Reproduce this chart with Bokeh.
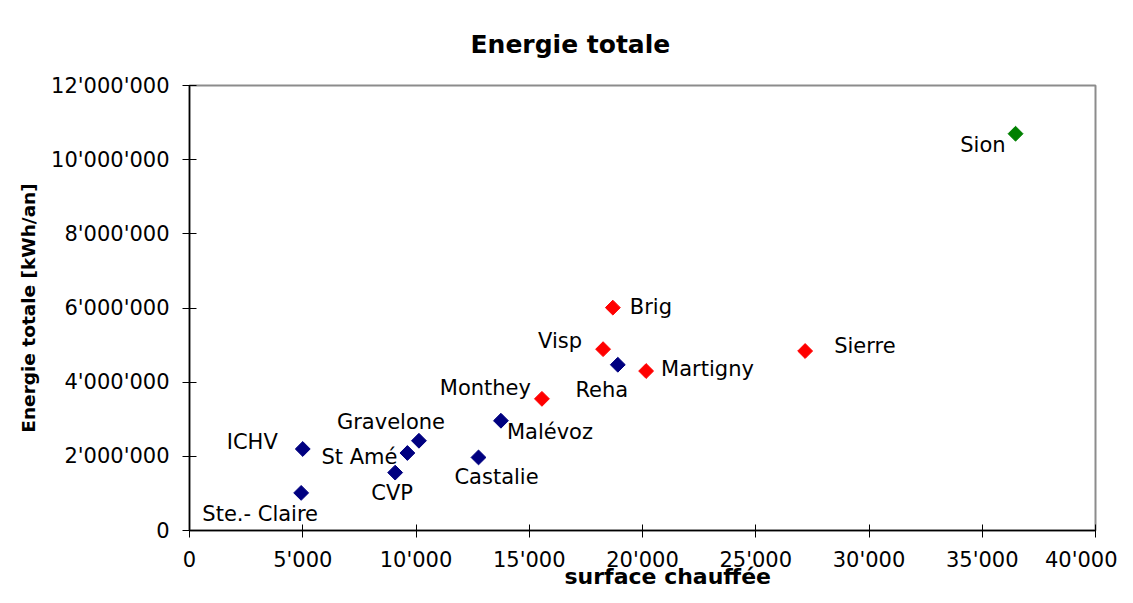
import math
from bokeh.plotting import figure
from bokeh.models import ColumnDataSource, Range1d, FixedTicker, Title
from bokeh.core.properties import value
from bokeh.embed import file_html
from bokeh.resources import INLINE

# ---- data ----
navy_names = ["Ste.- Claire", "ICHV", "CVP", "St Amé", "Gravelone", "Castalie", "Malévoz", "Reha"]
navy_surface = [4930, 5000, 9080, 9620, 10130, 12760, 13750, 18910]
navy_energie = [1014000, 2198000, 1561000, 2090000, 2420000, 1970000, 2960000, 4470000]

red_names = ["Monthey", "Visp", "Brig", "Martigny", "Sierre"]
red_surface = [15560, 18260, 18690, 20160, 27180]
red_energie = [3550000, 4890000, 6010000, 4300000, 4840000]

green_names = ["Sion"]
green_surface = [36470]
green_energie = [10700000]

x_ticks = [0, 5000, 10000, 15000, 20000, 25000, 30000, 35000, 40000]
x_tick_labels = ["0", "5'000", "10'000", "15'000", "20'000", "25'000", "30'000", "35'000", "40'000"]
y_ticks = [0, 2000000, 4000000, 6000000, 8000000, 10000000, 12000000]
y_tick_labels = ["0", "2'000'000", "4'000'000", "6'000'000", "8'000'000", "10'000'000", "12'000'000"]

title_text = "Energie totale"
x_title = "surface chauffée"
y_title = "Energie totale [kWh/an]"

# ---- label placement (screen pixels, +y down) ----
label_layout = {
    "Ste.- Claire": ("center", -41, 21),
    "ICHV": ("right", -25, -7),
    "CVP": ("center", -3, 20),
    "St Amé": ("right", -10, 4),
    "Gravelone": ("center", -28, -19),
    "Castalie": ("center", 18, 20),
    "Malévoz": ("left", 6, 11),
    "Reha": ("center", -16, 25),
    "Monthey": ("right", -11, -11),
    "Visp": ("right", -21, -8),
    "Brig": ("left", 17, -1),
    "Martigny": ("left", 15, -2),
    "Sierre": ("left", 29, -5),
    "Sion": ("right", -10, 11),
}

W, H = 1117, 587
p = figure(width=W, height=H, output_backend="svg", toolbar_location=None,
           x_range=Range1d(0, 40000), y_range=Range1d(0, 12000000),
           min_border_left=189, min_border_right=22, min_border_top=84, min_border_bottom=57)
p.background_fill_color = "white"
p.border_fill_color = "white"
p.outline_line_color = "#8c8c8c"
p.outline_line_width = 2
p.xgrid.visible = False
p.ygrid.visible = False

p.title = Title(text=title_text, align="left", offset=281, standoff=54,
                text_font="DejaVu Sans", text_font_style="bold", text_font_size="25px",
                text_color="black")
p.add_layout(Title(text=x_title, align="left", offset=375, standoff=-22, vertical_align="top",
                   text_font="DejaVu Sans", text_font_style="bold", text_font_size="22px",
                   text_color="black"), "below")

for ax in (p.xaxis[0], p.yaxis[0]):
    ax.axis_line_color = "black"
    ax.axis_line_width = 1.5
    ax.major_tick_line_color = "black"
    ax.major_tick_line_width = 1
    ax.minor_tick_line_color = None
    ax.major_label_text_font = "DejaVu Sans"
    ax.major_label_text_font_size = "21px"
    ax.major_label_text_color = "black"

p.xaxis.ticker = FixedTicker(ticks=x_ticks)
p.xaxis.major_label_overrides = dict(zip(x_ticks, x_tick_labels))
p.xaxis.major_tick_in = 6
p.xaxis.major_tick_out = 7
p.xaxis.major_label_standoff = 10

p.yaxis.ticker = FixedTicker(ticks=y_ticks)
p.yaxis.major_label_overrides = dict(zip(y_ticks, y_tick_labels))
p.yaxis.major_tick_in = 7
p.yaxis.major_tick_out = 7
p.yaxis.major_label_standoff = 13
p.yaxis.axis_label = y_title
p.yaxis.axis_label_text_font = "DejaVu Sans"
p.yaxis.axis_label_text_font_style = "bold"
p.yaxis.axis_label_text_font_size = "18.5px"
p.yaxis.axis_label_text_color = "black"
p.yaxis.axis_label_standoff = 9


def add_series(names, xs, ys, color):
    aligns = [label_layout[n][0] for n in names]
    dxs = [label_layout[n][1] for n in names]
    dys = [label_layout[n][2] for n in names]
    src = ColumnDataSource(dict(x=xs, y=ys, name=names, align=aligns, dx=dxs, dy=dys))
    p.scatter("x", "y", source=src, marker="square", size=10.5, angle=math.pi / 4,
              fill_color=color, line_color=color, line_width=1)
    p.text("x", "y", text="name", source=src, text_align="align", x_offset="dx", y_offset="dy",
           text_baseline="middle", text_font=value("DejaVu Sans"), text_font_size="21px",
           text_color="black")


add_series(navy_names, navy_surface, navy_energie, "#000080")
add_series(red_names, red_surface, red_energie, "#ff0000")
add_series(green_names, green_surface, green_energie, "#008000")

open("out.html", "w").write(file_html(p, INLINE))
